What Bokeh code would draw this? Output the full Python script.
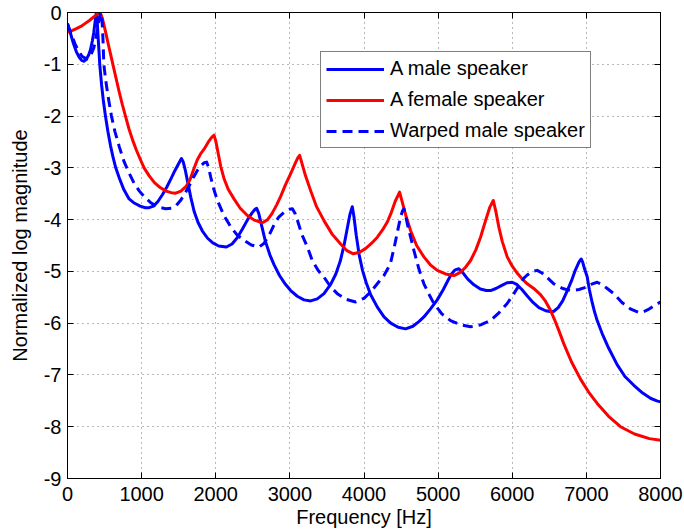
from bokeh.plotting import figure
from bokeh.models import (LinearAxis, SingleIntervalTicker, Legend, LegendItem,
                          CustomJSTickFormatter, Range1d)
from bokeh.embed import file_html
from bokeh.resources import INLINE

# ---- data ----
male_f = [0, 40, 80, 120, 160, 195, 224, 255, 285, 310, 335, 355, 372, 385, 391, 400, 412, 425,
          435, 460, 485, 512, 545, 580, 615, 651, 700, 760, 831, 900, 980, 1050, 1100, 1160, 1220,
          1280, 1340, 1400, 1450, 1495, 1537, 1560, 1590, 1625, 1665, 1710, 1760, 1820, 1890, 1960,
          2040, 2143, 2220, 2290, 2360, 2430, 2490, 2530, 2552, 2580, 2620, 2670, 2730, 2786, 2860,
          2940, 3011, 3100, 3190, 3280, 3370, 3460, 3550, 3620, 3680, 3730, 3770, 3810, 3842, 3865,
          3895, 3935, 3980, 4030, 4090, 4180, 4270, 4361, 4460, 4561, 4660, 4740, 4808, 4900, 4988,
          5070, 5130, 5180, 5230, 5280, 5330, 5400, 5483, 5570, 5650, 5707, 5780, 5860, 5930, 6000,
          6060, 6130, 6200, 6280, 6360, 6450, 6530, 6561, 6620, 6680, 6740, 6800, 6850, 6900, 6930,
          6950, 6975, 7010, 7040, 7078, 7110, 7146, 7213, 7300, 7415, 7520, 7640, 7760, 7865, 7950,
          8000]
male_v = [-0.21, -0.4, -0.6, -0.76, -0.87, -0.93, -0.94, -0.9, -0.82, -0.72, -0.55, -0.38, -0.18,
          -0.04, 0.0, -0.15, -0.45, -0.75, -1.0, -1.4, -1.72, -2.0, -2.3, -2.57, -2.8, -3.0, -3.2,
          -3.42, -3.6, -3.68, -3.74, -3.77, -3.77, -3.74, -3.65, -3.52, -3.37, -3.2, -3.05, -2.93,
          -2.82, -2.88, -3.05, -3.3, -3.58, -3.85, -4.05, -4.22, -4.36, -4.45, -4.51, -4.53, -4.47,
          -4.35, -4.18, -4.0, -3.87, -3.8, -3.78, -3.88, -4.12, -4.42, -4.68, -4.87, -5.08, -5.25,
          -5.37, -5.48, -5.55, -5.57, -5.53, -5.43, -5.25, -5.05, -4.8, -4.5, -4.2, -3.9, -3.75,
          -3.95, -4.3, -4.68, -4.98, -5.22, -5.45, -5.69, -5.88, -6.0, -6.08, -6.11, -6.06, -5.97,
          -5.88, -5.72, -5.55, -5.35, -5.18, -5.05, -4.97, -4.95, -5.02, -5.15, -5.26, -5.34, -5.37,
          -5.37, -5.33, -5.27, -5.22, -5.21, -5.25, -5.35, -5.47, -5.6, -5.7, -5.76, -5.78, -5.77,
          -5.7, -5.57, -5.38, -5.18, -4.98, -4.82, -4.76, -4.82, -4.95, -5.1, -5.35, -5.6, -5.78,
          -5.95, -6.2, -6.48, -6.8, -7.03, -7.2, -7.35, -7.45, -7.5, -7.52]

female_f = [0, 60, 120, 180, 240, 300, 350, 395, 435, 455, 480, 510, 545, 580, 615, 655, 700, 740,
            782, 830, 880, 930, 980, 1033, 1100, 1170, 1250, 1330, 1400, 1460, 1530, 1600, 1655,
            1705, 1750, 1800, 1842, 1900, 1945, 1977, 2000, 2030, 2067, 2110, 2170, 2246, 2330, 2427,
            2520, 2629, 2700, 2760, 2820, 2876, 2940, 3011, 3070, 3110, 3132, 3160, 3210, 3280, 3360,
            3460, 3570, 3685, 3770, 3856, 3940, 4020, 4100, 4180, 4250, 4320, 4361, 4420, 4480, 4520,
            4570, 4628, 4710, 4808, 4900, 4988, 5100, 5213, 5300, 5370, 5438, 5510, 5572, 5640, 5695,
            5744, 5780, 5820, 5865, 5932, 6000, 6060, 6130, 6202, 6290, 6381, 6450, 6516, 6570, 6628,
            6696, 6800, 6921, 7030, 7146, 7300, 7460, 7650, 7850, 8000]
female_v = [-0.38, -0.35, -0.31, -0.27, -0.21, -0.15, -0.09, -0.04, 0.0, -0.05, -0.17, -0.35, -0.58,
            -0.8, -1.02, -1.27, -1.55, -1.78, -2.0, -2.25, -2.47, -2.66, -2.83, -3.0, -3.15, -3.28,
            -3.38, -3.45, -3.48, -3.49, -3.45, -3.36, -3.22, -3.02, -2.85, -2.72, -2.64, -2.5, -2.41,
            -2.37, -2.48, -2.7, -2.97, -3.2, -3.42, -3.6, -3.78, -3.92, -4.01, -4.06, -4.0, -3.88,
            -3.72, -3.55, -3.33, -3.11, -2.92, -2.8, -2.76, -2.9, -3.15, -3.44, -3.75, -4.02, -4.28,
            -4.47, -4.6, -4.66, -4.63, -4.56, -4.46, -4.34, -4.2, -4.03, -3.89, -3.65, -3.47, -3.68,
            -3.95, -4.21, -4.5, -4.72, -4.88, -4.98, -5.05, -5.08, -5.02, -4.92, -4.79, -4.58, -4.34,
            -4.02, -3.77, -3.63, -3.85, -4.15, -4.42, -4.72, -4.9, -5.02, -5.14, -5.24, -5.33, -5.45,
            -5.58, -5.75, -5.93, -6.14, -6.4, -6.75, -7.08, -7.33, -7.55, -7.8, -8.0, -8.14, -8.23,
            -8.26]

warped_f = [0, 50, 100, 150, 200, 260, 300, 330, 355, 380, 405, 430, 445, 458, 468, 478, 490, 515,
            545, 575, 593, 640, 700, 763, 830, 900, 970, 1050, 1130, 1200, 1258, 1325, 1400, 1460,
            1530, 1590, 1640, 1700, 1752, 1800, 1845, 1878, 1905, 1932, 1975, 2022, 2110, 2202, 2290,
            2381, 2480, 2584, 2650, 2720, 2786, 2850, 2930, 3000, 3034, 3070, 3110, 3160, 3236, 3300,
            3380, 3460, 3550, 3640, 3760, 3887, 4000, 4100, 4190, 4269, 4320, 4361, 4410, 4449, 4490,
            4520, 4539, 4565, 4600, 4640, 4674, 4740, 4808, 4880, 4943, 5050, 5168, 5300, 5438, 5580,
            5707, 5820, 5932, 6022, 6100, 6157, 6202, 6270, 6337, 6400, 6480, 6561, 6680, 6786, 6900,
            7010, 7080, 7146, 7210, 7290, 7370, 7480, 7600, 7700, 7752, 7830, 7920, 8000]
warped_v = [-0.22, -0.42, -0.6, -0.75, -0.85, -0.9, -0.85, -0.77, -0.68, -0.52, -0.32, -0.1, -0.02,
            0.0, -0.2, -0.5, -1.0, -1.3, -1.6, -1.85, -2.0, -2.3, -2.6, -2.88, -3.1, -3.3, -3.45,
            -3.58, -3.68, -3.74, -3.77, -3.79, -3.78, -3.74, -3.62, -3.48, -3.35, -3.18, -3.05,
            -2.96, -2.9, -2.89, -3.0, -3.18, -3.42, -3.63, -3.92, -4.14, -4.3, -4.4, -4.49, -4.53,
            -4.46, -4.3, -4.1, -3.95, -3.85, -3.8, -3.79, -3.88, -4.05, -4.28, -4.53, -4.78, -4.98,
            -5.11, -5.3, -5.43, -5.54, -5.59, -5.52, -5.38, -5.22, -5.08, -4.95, -4.82, -4.52, -4.25,
            -3.97, -3.83, -3.79, -3.95, -4.18, -4.4, -4.6, -4.95, -5.24, -5.45, -5.62, -5.82, -5.95,
            -6.03, -6.07, -6.03, -5.95, -5.8, -5.62, -5.43, -5.25, -5.13, -5.07, -5.0, -4.98, -5.03,
            -5.13, -5.24, -5.33, -5.37, -5.35, -5.3, -5.24, -5.21, -5.25, -5.34, -5.43, -5.6, -5.73,
            -5.79, -5.79, -5.74, -5.66, -5.59]

x_ticks_interval = 1000
y_ticks_interval = 1

FONT = "Liberation Sans"
FS = "20px"

p = figure(width=684, height=532, output_backend="svg", toolbar_location=None,
           x_range=Range1d(0, 8000), y_range=Range1d(-9, 0),
           min_border_left=67, min_border_right=24, min_border_top=12, min_border_bottom=54)
p.background_fill_color = "white"
p.border_fill_color = "white"
p.outline_line_color = "black"
p.outline_line_width = 1

l1 = p.line(male_f, male_v, line_color="#0000ff", line_width=3, line_join="round")
l2 = p.line(female_f, female_v, line_color="#ff0000", line_width=3, line_join="round")
l3 = p.line(warped_f, warped_v, line_color="#0000ff", line_width=3, line_dash="10 6",
            line_join="round")

plain = CustomJSTickFormatter(code="return tick.toString()")

for ax in (p.xaxis[0], p.yaxis[0]):
    ax.major_label_text_font = FONT
    ax.major_label_text_font_size = FS
    ax.major_label_text_color = "black"
    ax.axis_label_text_font = FONT
    ax.axis_label_text_font_size = FS
    ax.axis_label_text_font_style = "normal"
    ax.axis_label_text_color = "black"
    ax.major_tick_in = 6
    ax.major_tick_out = 0
    ax.minor_tick_line_color = None
    ax.axis_line_color = "black"
    ax.major_tick_line_color = "black"
    ax.formatter = plain

p.xaxis[0].ticker = SingleIntervalTicker(interval=x_ticks_interval, num_minor_ticks=0)
p.yaxis[0].ticker = SingleIntervalTicker(interval=y_ticks_interval, num_minor_ticks=0)
p.xaxis[0].axis_label = "Frequency [Hz]"
p.yaxis[0].axis_label = "Normalized log magnitude"
p.xaxis[0].major_label_standoff = 8
p.xaxis[0].axis_label_standoff = 2
p.yaxis[0].major_label_standoff = 6
p.yaxis[0].axis_label_standoff = 10

blank = CustomJSTickFormatter(code="return ''")
rax = LinearAxis(ticker=SingleIntervalTicker(interval=y_ticks_interval, num_minor_ticks=0),
                 formatter=blank, major_tick_in=6, major_tick_out=0, minor_tick_line_color=None,
                 major_label_text_font_size="1px", major_label_standoff=0)
tax = LinearAxis(ticker=SingleIntervalTicker(interval=x_ticks_interval, num_minor_ticks=0),
                 formatter=blank, major_tick_in=6, major_tick_out=0, minor_tick_line_color=None,
                 major_label_text_font_size="1px", major_label_standoff=0)
p.add_layout(rax, "right")
p.add_layout(tax, "above")

p.xgrid.ticker = p.xaxis[0].ticker
p.ygrid.ticker = p.yaxis[0].ticker
for g in (p.xgrid[0], p.ygrid[0]):
    g.grid_line_color = "black"
    g.grid_line_alpha = 0.55
    g.grid_line_dash = "1 4"
    g.grid_line_width = 1

legend = Legend(items=[LegendItem(label="A male speaker", renderers=[l1]),
                       LegendItem(label="A female speaker", renderers=[l2]),
                       LegendItem(label="Warped male speaker", renderers=[l3])],
                location=(253, 330))
legend.label_text_font = FONT
legend.label_text_font_size = FS
legend.label_text_color = "black"
legend.glyph_width = 58
legend.glyph_height = 20
legend.label_height = 20
legend.label_standoff = 6
legend.spacing = 8
legend.padding = 5
legend.margin = 0
legend.border_line_color = "black"
legend.border_line_width = 1
legend.background_fill_color = "white"
legend.background_fill_alpha = 1
p.add_layout(legend, "center")

open("out.html", "w").write(file_html(p, INLINE))
